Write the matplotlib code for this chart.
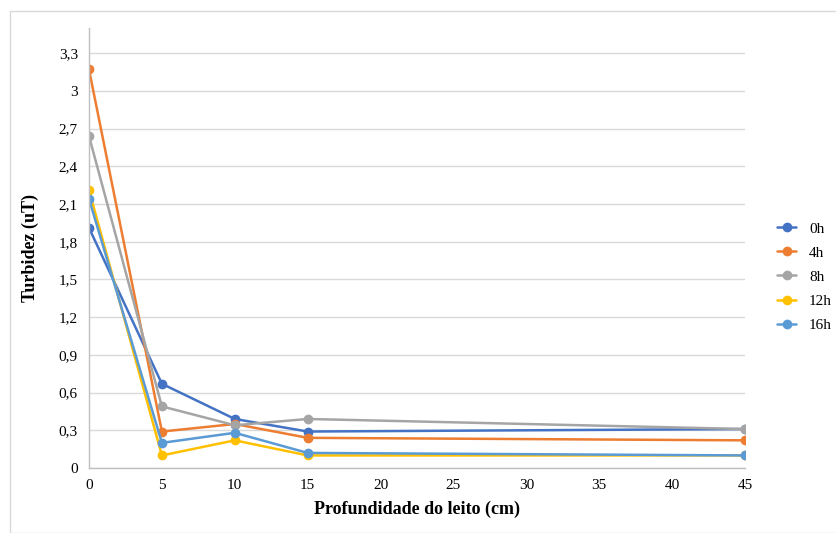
import numpy as np
import matplotlib.pyplot as plt
from matplotlib.patches import Rectangle

plt.rcParams['font.family'] = ['Liberation Serif', 'DejaVu Serif']

# profundidade (cm)
depth = [0, 5, 10, 15, 45]

# turbidez por tempo
t0h = [1.91, 0.67, 0.39, 0.29, 0.31]
t4h = [3.17, 0.29, 0.35, 0.24, 0.22]
t8h = [2.64, 0.49, 0.34, 0.39, 0.31]
t12h = [2.21, 0.10, 0.22, 0.10, 0.10]
t16h = [2.14, 0.20, 0.28, 0.12, 0.10]

series = [('0h', t0h, '#4472C4'),
          ('4h', t4h, '#ED7D31'),
          ('8h', t8h, '#A5A5A5'),
          ('12h', t12h, '#FFC000'),
          ('16h', t16h, '#5B9BD5')]

yticks = [0, 0.3, 0.6, 0.9, 1.2, 1.5, 1.8, 2.1, 2.4, 2.7, 3.0, 3.3]
xticks = [0, 5, 10, 15, 20, 25, 30, 35, 40, 45]

fig = plt.figure(figsize=(8.36, 5.33), dpi=100)
ax = fig.add_axes([89 / 836, 1 - 468 / 533, 656 / 836, 440 / 533])

# moldura do gráfico
fig.patches.append(Rectangle((10 / 836, 0), 1, 1 - 11 / 533, transform=fig.transFigure,
                             fill=False, edgecolor='#D9D9D9', linewidth=1))

for name, vals, col in series:
    ax.plot(depth, vals, color=col, lw=1.8, marker='o', markersize=6, label=name,
            solid_capstyle='round')

ax.set_xlim(0, 45)
ax.set_ylim(0, 3.5)
ax.set_xticks(xticks)
ax.set_yticks(yticks)
ax.set_yticklabels([f'{v:g}'.replace('.', ',') for v in yticks])
ax.grid(axis='y', color='#D9D9D9', lw=1)
ax.set_axisbelow(True)
ax.tick_params(length=0, labelsize=11, colors='#000000', pad=8)

for s in ['top', 'right']:
    ax.spines[s].set_visible(False)
for s in ['left', 'bottom']:
    ax.spines[s].set_color('#BFBFBF')
    ax.spines[s].set_linewidth(1)

ax.set_xlabel('Profundidade do leito (cm)', fontsize=13, fontweight='bold', labelpad=6)
ax.set_ylabel('Turbidez (uT)', fontsize=13, fontweight='bold', labelpad=14)

fig.legend(loc='center left', bbox_to_anchor=(777 / 836, 1 - 277 / 533), frameon=False,
           fontsize=11, handlelength=1.25, labelspacing=0.68, handletextpad=0.85,
           borderaxespad=0, borderpad=0)

fig.savefig('out.png', dpi=100)
